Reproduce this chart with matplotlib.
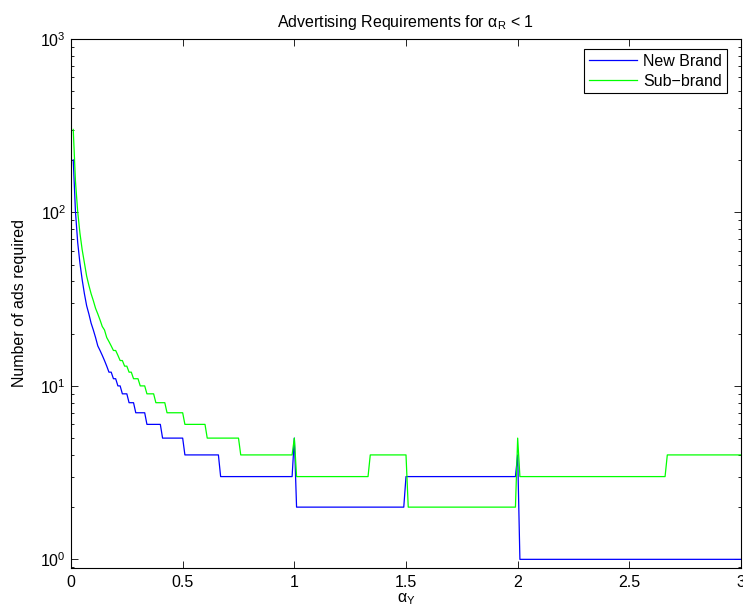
"""
Advertising requirements chart: number of ads required vs alpha_Y,
for a new brand and a sub-brand (log scale).
"""

import numpy as np
import matplotlib
matplotlib.use("Agg")
import matplotlib.pyplot as plt
from matplotlib.ticker import LogLocator, FixedLocator, FixedFormatter

plt.rcParams['font.family'] = ['Liberation Sans', 'DejaVu Sans']
plt.rcParams['mathtext.fontset'] = 'custom'
plt.rcParams['mathtext.rm'] = 'Liberation Sans'
plt.rcParams['mathtext.it'] = 'Liberation Sans'
plt.rcParams['mathtext.bf'] = 'Liberation Sans:bold'

# alpha_Y grid: 0.01 .. 3.00
alpha_y = np.arange(1, 301) / 100

# values for alpha_Y = 0.01 .. 0.99
new_brand_head = [201, 101, 67, 51, 41, 34, 29, 26, 23, 21,
                  19, 17, 16, 15, 14, 13, 12, 12, 11, 11,
                  10, 10, 9, 9, 9, 8, 8, 8, 7, 7,
                  7, 7, 7, 6, 6, 6, 6, 6, 6, 6,
                  5, 5, 5, 5, 5, 5, 5, 5, 5, 5,
                  4, 4, 4, 4, 4, 4, 4, 4, 4, 4,
                  4, 4, 4, 4, 4, 4, 3, 3, 3, 3,
                  3, 3, 3, 3, 3, 3, 3, 3, 3, 3,
                  3, 3, 3, 3, 3, 3, 3, 3, 3, 3,
                  3, 3, 3, 3, 3, 3, 3, 3, 3]
sub_brand_head = [301, 151, 101, 76, 61, 51, 43, 38, 34, 31,
                  28, 26, 24, 22, 21, 19, 18, 17, 16, 16,
                  15, 14, 14, 13, 13, 12, 12, 11, 11, 11,
                  10, 10, 10, 9, 9, 9, 9, 8, 8, 8,
                  8, 8, 7, 7, 7, 7, 7, 7, 7, 7,
                  6, 6, 6, 6, 6, 6, 6, 6, 6, 6,
                  5, 5, 5, 5, 5, 5, 5, 5, 5, 5,
                  5, 5, 5, 5, 5, 4, 4, 4, 4, 4,
                  4, 4, 4, 4, 4, 4, 4, 4, 4, 4,
                  4, 4, 4, 4, 4, 4, 4, 4, 4]

# alpha_Y = 1.00 .. 3.00 as (level, number of grid points)
new_brand_levels = [5, 2, 3, 4, 1]
new_brand_counts = [1, 49, 50, 1, 100]
sub_brand_levels = [5, 3, 4, 2, 5, 3, 4]
sub_brand_counts = [1, 33, 17, 49, 1, 66, 34]

new_brand = np.concatenate([new_brand_head,
                            np.repeat(new_brand_levels, new_brand_counts)])
sub_brand = np.concatenate([sub_brand_head,
                            np.repeat(sub_brand_levels, sub_brand_counts)])

xticks = [0, 0.5, 1, 1.5, 2, 2.5, 3]
xtick_labels = ['0', '0.5', '1', '1.5', '2', '2.5', '3']

fs = 11.5
fig = plt.figure(figsize=(7.43, 6.12), dpi=100)
ax = fig.add_axes([71 / 743, (612 - 567.7) / 612,
                   (741 - 71) / 743, (567.7 - 39) / 612])

ax.plot(alpha_y, new_brand, color=(0, 0, 1), lw=0.9, label='New Brand')
ax.plot(alpha_y, sub_brand, color=(0, 1, 0), lw=0.9, label='Sub\u2212brand')

ax.set_yscale('log')
ax.set_xlim(0, 3)
ax.set_ylim(0.895, 1000)
ax.xaxis.set_major_locator(FixedLocator(xticks))
ax.xaxis.set_major_formatter(FixedFormatter(xtick_labels))
ax.yaxis.set_major_locator(LogLocator(base=10, numticks=10))
ax.yaxis.set_minor_locator(LogLocator(base=10, subs=np.arange(2, 10), numticks=10))

ax.tick_params(which='both', direction='in', top=True, right=True,
               labelsize=fs, width=0.6)
ax.tick_params(which='major', length=5)
ax.tick_params(which='minor', length=2.5)
ax.tick_params(axis='x', pad=5)
for s in ax.spines.values():
    s.set_linewidth(0.8)

ax.set_title(r'Advertising Requirements for $\mathregular{\alpha_R}$ < 1',
             fontsize=fs, pad=9)
ax.set_xlabel(r'$\mathregular{\alpha_Y}$', fontsize=fs, labelpad=1)
ax.set_ylabel('Number of ads required', fontsize=fs, labelpad=10)

leg = ax.legend(loc='upper right', bbox_to_anchor=(1 - 14 / 670, 1 - 10 / 528.7),
                borderaxespad=0, fontsize=fs, fancybox=False, framealpha=1,
                edgecolor='k', handlelength=3.0, handletextpad=0.4,
                labelspacing=0.3, borderpad=0.3)
leg.get_frame().set_linewidth(0.8)

fig.savefig('out.png', dpi=100)
